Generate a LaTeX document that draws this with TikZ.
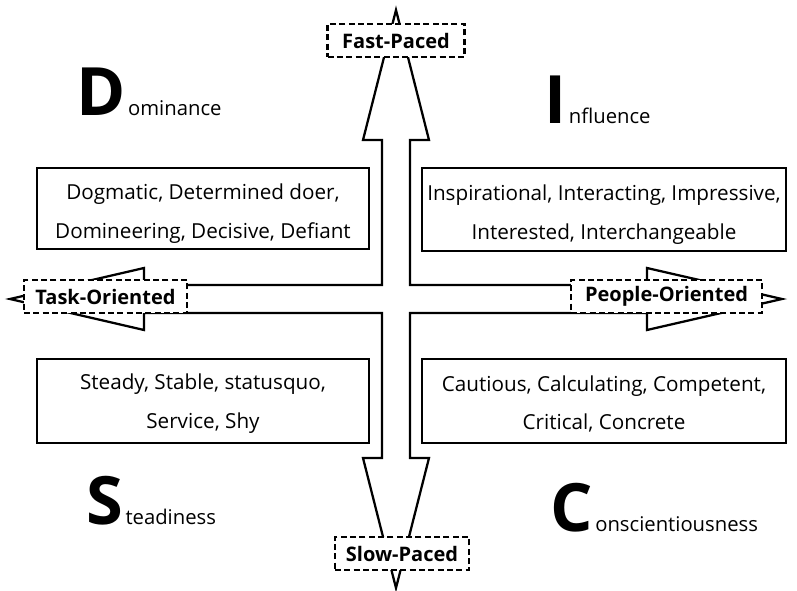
\documentclass[tikz,border=0pt]{standalone}
\usepackage{fontspec}
\setmainfont{Open Sans}
\newcommand{\tallstrut}{\rule{0pt}{19pt}}
\begin{document}
\begin{tikzpicture}[x=0.75pt,y=-0.75pt,
  arrowshape/.style={draw=black,line width=1.7pt,fill=white,line join=miter},
  dashbox/.style={draw=black,line width=1.7pt,dashed,dash pattern=on 4.5pt off 2.5pt,fill=white,
     font=\bfseries\fontsize{15}{17}\selectfont,inner sep=0pt,minimum height=24.75pt},
  textbox/.style={draw=black,line width=1.7pt,fill=white,align=center,inner sep=0pt,
     font=\fontsize{15.5}{29}\selectfont},
  bigletter/.style={font=\bfseries\fontsize{50}{50}\selectfont,inner sep=0pt,anchor=base west},
  restword/.style={font=\fontsize{15.2}{17}\selectfont,inner sep=0pt,anchor=base west}]
\useasboundingbox (0,0) rectangle (797,590);
% four-headed arrow
\draw[arrowshape] (396,10) -- (429,140) -- (410,140) -- (410,285) -- (647,285) -- (647,268)
  -- (782,299) -- (647,330) -- (647,313) -- (410,313) -- (410,458) -- (429,458)
  -- (396,588) -- (363,458) -- (382,458) -- (382,313) -- (144,313) -- (144,330)
  -- (10,299) -- (144,268) -- (144,285) -- (382,285) -- (382,140) -- (363,140) -- cycle;
% dashed labels
\node[dashbox,minimum width=102.75pt] (fast) at (396,40.5) {Fast-Paced};
\node[dashbox,minimum width=100.5pt] (slow) at (402,553.5) {Slow-Paced};
\node[dashbox,minimum width=122.25pt] (task) at (105.5,296.5) {Task-Oriented};
\node[dashbox,minimum width=143.25pt] (people) at (666.5,296.5) {People-Oriented};
% text boxes
\node[textbox,minimum width=249pt,minimum height=60.75pt] (dbox) at (203,208.5)
  {\tallstrut Dogmatic, Determined doer,\\Domineering, Decisive, Defiant};
\node[textbox,minimum width=273pt,minimum height=62.25pt] (ibox) at (604,209.5)
  {\tallstrut Inspirational, Interacting, Impressive,\\Interested, Interchangeable};
\node[textbox,minimum width=249pt,minimum height=63pt] (sbox) at (203,401)
  {\rule{0pt}{16pt}Steady, Stable, statusquo,\\Service, Shy};
\node[textbox,minimum width=273pt,minimum height=63pt] (cbox) at (604,401)
  {\rule{0pt}{16pt}Cautious, Calculating, Competent,\\Critical, Concrete};
% big letters
\node[bigletter] (D) at (76,115) {D};
\node[restword] (Dr) at ([xshift=1.5pt]D.base east) {ominance};
\node[bigletter] (I) at (544,123) {I};
\node[restword] (Ir) at ([xshift=1.5pt]I.base east) {nfluence};
\node[bigletter] (S) at (86,524) {S};
\node[restword] (Sr) at ([xshift=1.5pt]S.base east) {teadiness};
\node[bigletter] (C) at (550,531) {C};
\node[restword] (Cr) at ([xshift=1.5pt]C.base east) {onscientiousness};
\end{tikzpicture}
\end{document}
